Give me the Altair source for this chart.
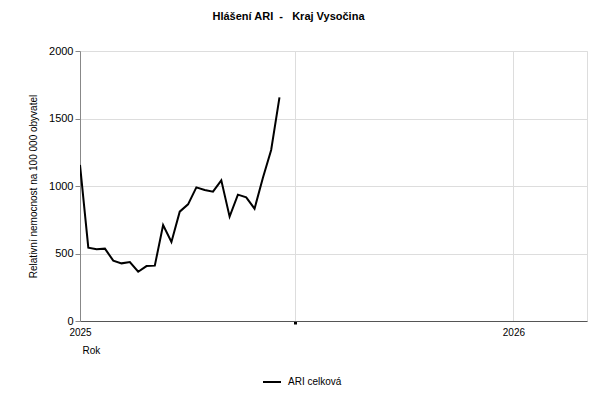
import altair as alt
import pandas as pd

weeks = ["2025-01-01", "2025-01-08", "2025-01-15", "2025-01-22", "2025-01-29",
         "2025-02-05", "2025-02-12", "2025-02-19", "2025-02-26", "2025-03-05",
         "2025-03-12", "2025-03-19", "2025-03-26", "2025-04-02", "2025-04-09",
         "2025-04-16", "2025-04-23", "2025-04-30", "2025-05-07", "2025-05-14",
         "2025-05-21", "2025-05-28", "2025-06-04", "2025-06-11", "2025-06-18"]
values = [1156, 543, 531, 536, 447, 427, 437, 365, 407, 410,
          711, 585, 810, 864, 990, 970, 958, 1042, 773, 936,
          916, 832, 1060, 1267, 1657]
series_name = "ARI celková"
title_text = "Hlášení ARI \u00a0-\u00a0\u00a0 Kraj Vysočina"
y_title = "Relativní nemocnost na 100 000 obyvatel"
x_title = "Rok"
x_ticks = ["2025-01-01T00:00:00", "2025-07-01T00:00:00", "2026-01-01T00:00:00"]

df = pd.DataFrame({
    "date": [w + "T00:00:00" for w in weeks],
    "value": values,
    "series": series_name,
})

FONT = "Liberation Sans"

chart = alt.Chart(df).mark_line(strokeWidth=2, clip=True).encode(
    x=alt.X(
        "date:T",
        scale=alt.Scale(domain=["2025-01-01T00:00:00", "2026-03-04T00:00:00"], nice=False),
        axis=alt.Axis(
            values=x_ticks,
            labelExpr="month(datum.value) == 0 ? timeFormat(datum.value, '%Y') : ''",
            labelFlush=False,
            grid=True,
            gridColor="#dddddd",
            domainColor="#555555",
            tickColor={"condition": {"test": "month(datum.value) == 6", "value": "black"}, "value": "transparent"},
            tickWidth=3,
            tickSize=3,
            labelPadding=3,
            labelFont=FONT,
            labelFontSize=10,
            labelColor="black",
            title=x_title,
            titleFont=FONT,
            titleFontSize=10,
            titleFontWeight="normal",
            titleAnchor="start",
            titleAlign="left",
            titleBaseline="middle",
            titleX=2,
            titleY=29,
        ),
    ),
    y=alt.Y(
        "value:Q",
        scale=alt.Scale(domain=[0, 2000], nice=False),
        axis=alt.Axis(
            values=[0, 500, 1000, 1500, 2000],
            format="d",
            grid=True,
            gridColor="#dddddd",
            domainColor="#888888",
            tickColor="#888888",
            tickSize=5,
            labelPadding=2,
            labelFont=FONT,
            labelFontSize=11,
            labelColor="black",
            title=y_title,
            titleFont=FONT,
            titleFontSize=10,
            titleFontWeight="normal",
            titleAngle=-90,
            titleAlign="center",
            titleBaseline="middle",
            titleX=-47,
            titleY=135,
        ),
    ),
    color=alt.Color(
        "series:N",
        scale=alt.Scale(range=["black"]),
        legend=alt.Legend(
            title=None,
            orient="none",
            legendX=182,
            legendY=321,
            symbolType="stroke",
            symbolSize=324,
            symbolStrokeWidth=2,
            labelFont=FONT,
            labelFontSize=10,
            labelOffset=6,
        ),
    ),
).properties(
    width=507,
    height=270,
    padding={"left": 72, "top": 43, "right": 10, "bottom": 72},
    autosize=alt.AutoSizeParams(type="none"),
    title=alt.Title(
        title_text,
        font=FONT,
        fontSize=11,
        fontWeight="bold",
        anchor="middle",
        dx=-45,
        offset=23,
    ),
).configure_view(stroke=None).configure(background="white")

chart.save("out.html", embed_options={"renderer": "svg", "actions": False})
